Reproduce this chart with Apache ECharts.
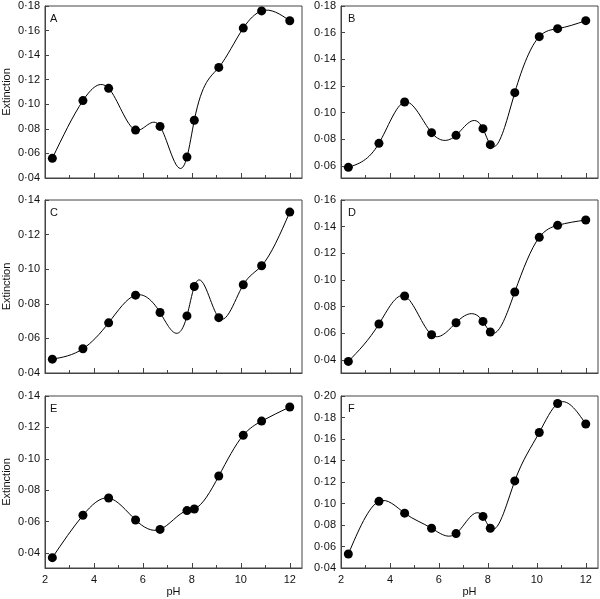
<!DOCTYPE html>
<html><head><meta charset="utf-8">
<script src="https://cdn.jsdelivr.net/npm/echarts@6/dist/echarts.min.js"></script>
<style>html,body{margin:0;padding:0;background:#fff}#c{width:600px;height:599px}</style>
</head><body><div id="c"></div>
<script>
// ---- data ----
const pH = [2.3, 3.55, 4.6, 5.7, 6.7, 7.8, 8.1, 9.1, 10.1, 10.85, 12.0];
const extinctionA = [0.056, 0.103, 0.113, 0.079, 0.082, 0.057, 0.087, 0.130, 0.162, 0.176, 0.168];
const extinctionB = [0.059, 0.077, 0.108, 0.085, 0.083, 0.088, 0.076, 0.115, 0.157, 0.163, 0.169];
const extinctionC = [0.048, 0.054, 0.069, 0.085, 0.075, 0.073, 0.090, 0.072, 0.091, 0.102, 0.133];
const extinctionD = [0.039, 0.067, 0.088, 0.059, 0.068, 0.069, 0.061, 0.091, 0.132, 0.141, 0.145];
const extinctionE = [0.037, 0.064, 0.075, 0.061, 0.055, 0.067, 0.068, 0.089, 0.115, 0.124, 0.133];
const extinctionF = [0.053, 0.102, 0.091, 0.077, 0.072, 0.088, 0.077, 0.121, 0.166, 0.193, 0.174];
const panelLetters = ['A', 'B', 'C', 'D', 'E', 'F'];
const xMajorTicks = [2, 4, 6, 8, 10, 12];
const xMinorTicks = [3, 5, 7, 9, 11];
const yTicksA = [0.04, 0.06, 0.08, 0.10, 0.12, 0.14, 0.16, 0.18];
const yTicksB = [0.06, 0.08, 0.10, 0.12, 0.14, 0.16, 0.18];
const yTicksC = [0.04, 0.06, 0.08, 0.10, 0.12, 0.14];
const yTicksD = [0.04, 0.06, 0.08, 0.10, 0.12, 0.14, 0.16];
const yTicksE = [0.04, 0.06, 0.08, 0.10, 0.12, 0.14];
const yTicksF = [0.04, 0.06, 0.08, 0.10, 0.12, 0.14, 0.16, 0.18, 0.20];
const yRangeA = [0.04, 0.18];
const yRangeB = [0.051, 0.18];
const yRangeC = [0.04, 0.14];
const yRangeD = [0.0303, 0.16];
const yRangeE = [0.0304, 0.14];
const yRangeF = [0.04, 0.20];
const xRange = [2, 12.5];

const panels = [
  {letter: panelLetters[0], vals: extinctionA, ticks: yTicksA, range: yRangeA},
  {letter: panelLetters[1], vals: extinctionB, ticks: yTicksB, range: yRangeB},
  {letter: panelLetters[2], vals: extinctionC, ticks: yTicksC, range: yRangeC},
  {letter: panelLetters[3], vals: extinctionD, ticks: yTicksD, range: yRangeD},
  {letter: panelLetters[4], vals: extinctionE, ticks: yTicksE, range: yRangeE},
  {letter: panelLetters[5], vals: extinctionF, ticks: yTicksF, range: yRangeF}
];

// ---- layout ----
const colLeft = [43, 341], colWidth = [259, 257];
const rowTop = [6, 200, 396], rowHeight = [172, 173, 172];
const axisColor = '#444', textColor = '#111';
const FONT = '"Liberation Sans", Arial, Helvetica, sans-serif';

function naturalSplinePath(pts) {
  const n = pts.length;
  const x = pts.map(p => p[0]), y = pts.map(p => p[1]);
  const h = [];
  for (let i = 0; i < n - 1; i++) h.push(x[i + 1] - x[i]);
  const M = new Array(n).fill(0);
  if (n > 2) {
    const m = n - 2, a = [], b = [], c = [], d = [];
    for (let i = 1; i < n - 1; i++) {
      a.push(h[i - 1]); b.push(2 * (h[i - 1] + h[i])); c.push(h[i]);
      d.push(6 * ((y[i + 1] - y[i]) / h[i] - (y[i] - y[i - 1]) / h[i - 1]));
    }
    for (let i = 1; i < m; i++) {
      const w = a[i] / b[i - 1];
      b[i] -= w * c[i - 1]; d[i] -= w * d[i - 1];
    }
    const sol = new Array(m);
    sol[m - 1] = d[m - 1] / b[m - 1];
    for (let i = m - 2; i >= 0; i--) sol[i] = (d[i] - c[i] * sol[i + 1]) / b[i];
    for (let i = 0; i < m; i++) M[i + 1] = sol[i];
  }
  let s = 'M' + x[0] + ' ' + y[0];
  for (let i = 0; i < n - 1; i++) {
    const hi = h[i], sl = (y[i + 1] - y[i]) / hi;
    const d0 = sl - hi * (2 * M[i] + M[i + 1]) / 6;
    const d1 = sl + hi * (M[i] + 2 * M[i + 1]) / 6;
    s += ' C' + (x[i] + hi / 3) + ' ' + (y[i] + d0 * hi / 3) + ' ' +
         (x[i + 1] - hi / 3) + ' ' + (y[i + 1] - d1 * hi / 3) + ' ' + x[i + 1] + ' ' + y[i + 1];
  }
  return s;
}

const fmtY = v => v.toFixed(2).replace('.', '\u00B7');

const grid = [], xAxis = [], yAxis = [], series = [], graphic = [];
panels.forEach((p, i) => {
  const col = i % 2, row = Math.floor(i / 2);
  const bottomRow = row === 2, leftCol = col === 0;
  grid.push({left: colLeft[col], top: rowTop[row], width: colWidth[col], height: rowHeight[row],
    show: true, borderColor: axisColor, borderWidth: 1, backgroundColor: 'transparent', containLabel: false});
  xAxis.push({
    gridIndex: i, type: 'value', min: xRange[0], max: xRange[1], position: 'bottom',
    axisLine: {show: true, lineStyle: {color: axisColor, width: 1}},
    axisTick: {show: true, inside: true, length: 5, customValues: xMajorTicks, lineStyle: {color: axisColor}},
    axisLabel: {show: bottomRow, customValues: xMajorTicks, fontSize: 11, color: textColor, margin: 6, fontFamily: FONT},
    splitLine: {show: false},
    name: bottomRow ? 'pH' : '', nameLocation: 'middle', nameGap: 18,
    nameTextStyle: {fontSize: 11, color: textColor, fontFamily: FONT}
  });
  xAxis.push({
    gridIndex: i, type: 'value', min: xRange[0], max: xRange[1], position: 'bottom',
    axisLine: {show: false},
    axisTick: {show: true, inside: true, length: 3, customValues: xMinorTicks, lineStyle: {color: axisColor}},
    axisLabel: {show: false}, splitLine: {show: false}
  });
  yAxis.push({
    gridIndex: i, type: 'value', min: p.range[0], max: p.range[1],
    axisLine: {show: true, lineStyle: {color: axisColor, width: 1}},
    axisTick: {show: true, inside: true, length: 4, customValues: p.ticks, lineStyle: {color: axisColor}},
    axisLabel: {show: true, customValues: p.ticks, formatter: fmtY, fontSize: 11, color: textColor, margin: 5, fontFamily: FONT},
    splitLine: {show: false},
    name: leftCol ? 'Extinction' : '', nameLocation: 'middle', nameGap: 33,
    nameTextStyle: {fontSize: 11, color: textColor, fontFamily: FONT}
  });
  const pts = pH.map((x, k) => [x, p.vals[k]]);
  series.push({
    type: 'custom', xAxisIndex: 2 * i, yAxisIndex: i, silent: true, z: 2,
    data: [pts[0]],
    renderItem: function (params, api) {
      if (params.dataIndex !== 0) return;
      const px = pts.map(q => api.coord(q));
      return {type: 'path', shape: {pathData: naturalSplinePath(px)},
        style: {stroke: '#000', fill: null, lineWidth: 1}};
    }
  });
  series.push({
    type: 'scatter', xAxisIndex: 2 * i, yAxisIndex: i, z: 3,
    data: pts, symbol: 'circle', symbolSize: 9, itemStyle: {color: '#000', opacity: 1}, silent: true
  });
  graphic.push({type: 'text', left: colLeft[col] + 7, top: rowTop[row] + 7,
    style: {text: p.letter, font: '11px ' + FONT, fill: textColor}});
});

const chart = echarts.init(document.getElementById('c'), null, {renderer: 'canvas'});
chart.setOption({
  animation: false, backgroundColor: '#fff',
  textStyle: {fontFamily: FONT},
  grid, xAxis, yAxis, series, graphic
});
</script></body></html>
